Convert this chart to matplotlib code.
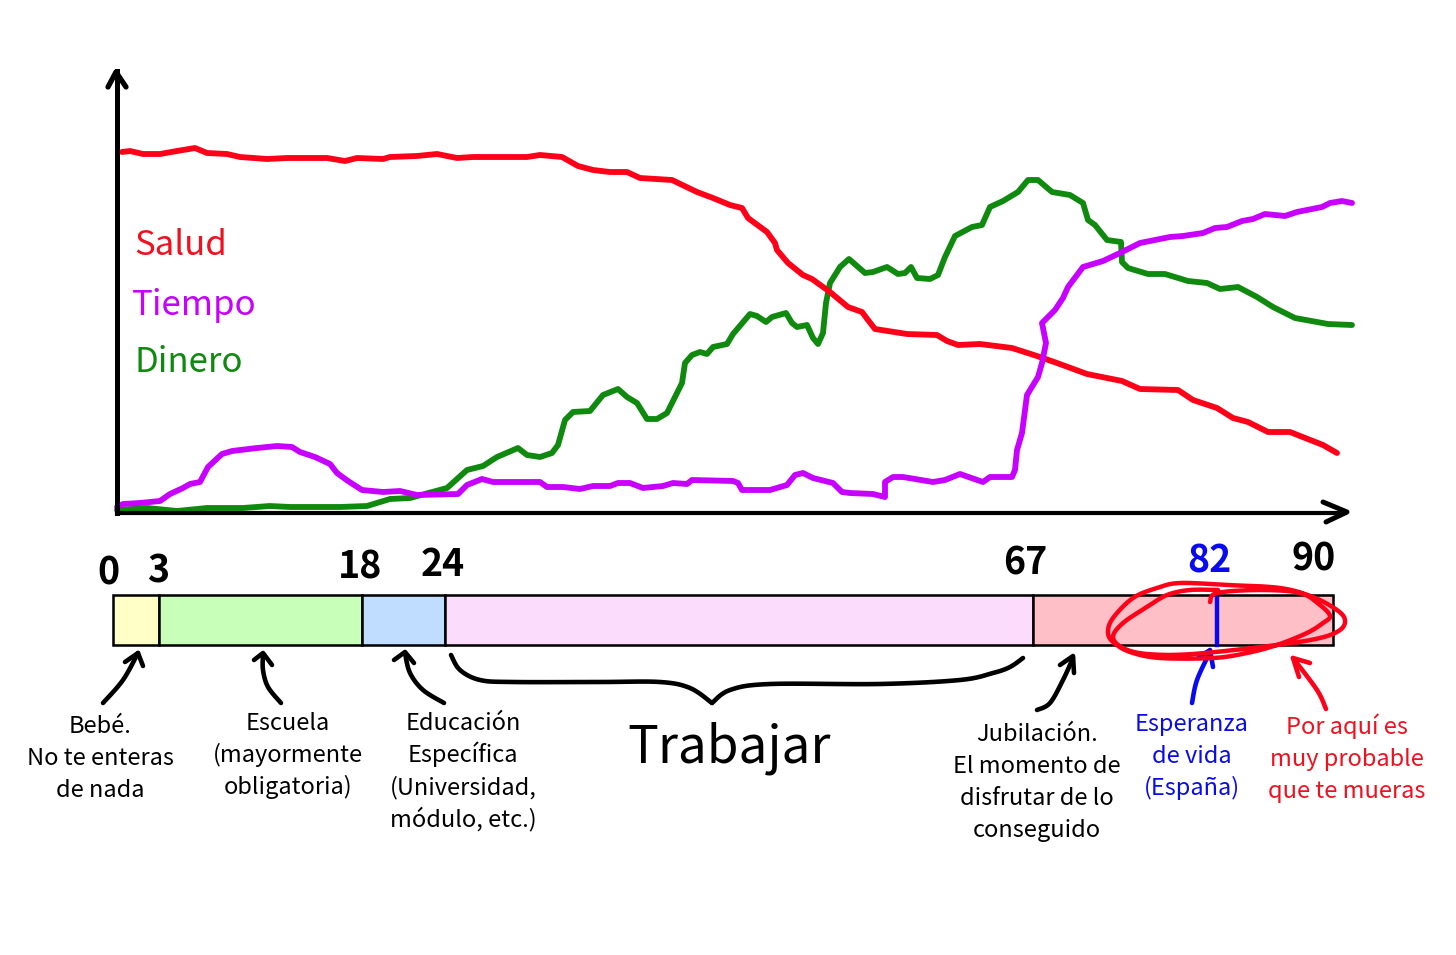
import matplotlib

matplotlib.use("Agg")
import matplotlib.pyplot as plt
import numpy as np

plt.rcParams["font.family"] = ["Noto Sans CJK JP", "DejaVu Sans"]

WIDTH, HEIGHT = 1456, 955

# The sketch has no scale on its axes, so values are in sketch units:
# x along the horizontal axis, y height above it.
salud_x = [5, 13, 26, 43, 60, 78, 90, 110, 123, 150, 170, 210, 228, 240, 266, 273, 300, 320, 340, 356,
           410, 423, 445, 461, 476, 493, 510, 523, 555, 580, 596, 613, 625, 631, 650, 658, 660, 671, 686, 695,
           713, 731, 745, 751, 758, 790, 820, 830, 841, 863, 895, 920, 940, 970, 1005, 1023, 1061, 1076, 1100,
           1116, 1131, 1151, 1173, 1206, 1220]
salud_y = [361, 362, 359, 359, 362, 365, 360, 359, 356, 354, 355, 355, 352, 355, 354, 356, 357, 359, 355, 356,
           356, 358, 356, 347, 343, 341, 341, 335, 333, 321, 315, 308, 305, 295, 281, 270, 263, 250, 238, 234,
           221, 206, 201, 193, 184, 179, 178, 172, 168, 169, 165, 157, 150, 139, 132, 124, 123, 113, 105,
           95, 91, 81, 81, 68, 60]

tiempo_x = [0, 6, 23, 43, 53, 66, 73, 83, 91, 105, 115, 140, 160, 175, 183, 198, 213, 220, 231, 245,
            266, 283, 300, 341, 350, 365, 376, 423, 430, 446, 463, 476, 493, 501, 513, 526, 546, 556, 570, 575,
            616, 621, 625, 653, 670, 678, 686, 696, 716, 725, 733, 756, 768, 768, 776, 786, 816, 828, 843, 866,
            873, 895, 898, 900, 905, 910, 921, 925, 929, 925, 938, 946, 951, 966, 986, 1003, 1023, 1053, 1066,
            1086, 1098, 1110, 1125, 1136, 1148, 1168, 1180, 1205, 1213, 1225, 1235]
tiempo_y = [6, 9, 10, 12, 19, 25, 29, 31, 46, 59, 62, 65, 67, 66, 61, 56, 49, 40, 32, 23,
            21, 22, 18, 19, 28, 34, 31, 31, 26, 26, 24, 27, 27, 30, 30, 25, 27, 30, 29, 33,
            32, 30, 23, 23, 28, 38, 40, 35, 30, 21, 20, 19, 16, 31, 36, 36, 31, 33, 39, 31,
            36, 36, 43, 63, 80, 118, 136, 150, 170, 190, 203, 215, 226, 246, 252, 260, 270, 276, 277,
            280, 285, 286, 292, 294, 299, 297, 301, 306, 310, 312, 310]

dinero_x = [0, 30, 60, 90, 126, 153, 173, 223, 250, 273, 293, 330, 350, 366, 380, 401, 410, 423, 435, 441,
            448, 456, 473, 486, 501, 510, 520, 530, 540, 550, 565, 568, 575, 583, 590, 596, 610, 616, 633, 640,
            649, 655, 669, 675, 680, 690, 696, 701, 706, 709, 713, 723, 732, 740, 748, 756, 770, 781, 788, 794,
            800, 813, 821, 828, 838, 855, 865, 873, 886, 901, 911, 921, 935, 953, 966, 971, 978, 990, 1004,
            1005, 1011, 1031, 1048, 1071, 1090, 1103, 1121, 1140, 1156, 1178, 1211, 1235]
dinero_y = [3, 5, 2, 5, 5, 7, 6, 6, 7, 14, 15, 25, 43, 47, 56, 65, 58, 56, 60, 68,
            93, 101, 102, 118, 124, 116, 110, 94, 94, 100, 130, 150, 158, 161, 159, 166, 169, 179, 199, 197,
            191, 196, 200, 190, 186, 188, 175, 169, 180, 210, 230, 246, 254, 247, 240, 241, 246, 239, 240, 246,
            235, 234, 238, 256, 277, 286, 288, 306, 312, 321, 333, 333, 321, 318, 310, 293, 288, 273, 271,
            251, 245, 239, 239, 232, 230, 224, 226, 216, 206, 195, 189, 188]

stage_ages = [0, 3, 18, 24, 67, 90]
stage_colors = ["#ffffc8", "#c8ffb9", "#c0dcff", "#fcdcfc", "#ffbfc6"]
life_expectancy = 82

# where the hand-drawn timeline puts each age, it is not quite linear
scale_ages = [0, 3, 18, 24, 67, 82, 90]
scale_px = [113, 159, 362, 445, 1033, 1217, 1333]

RED = "#ff0019"
PURPLE = "#c800ff"
GREEN = "#0f8a0f"
BLUE = "#0a0af0"
TEXT_RED = "#f0101e"


def px_box(left, top, right, bottom):
    """Axes rectangle from picture pixels (y counted from the top)."""
    return [left / WIDTH, 1 - bottom / HEIGHT, (right - left) / WIDTH, (bottom - top) / HEIGHT]


fig = plt.figure(figsize=(WIDTH / 100, HEIGHT / 100), dpi=100)

# Main chart
ax = fig.add_axes(px_box(117, 71, 1345, 513))
ax.set_xlim(0, 1228)
ax.set_ylim(0, 442)
line_style = dict(lw=4.2, solid_capstyle="round", solid_joinstyle="round", clip_on=False)
ax.plot(dinero_x, dinero_y, color=GREEN, **line_style)
ax.plot(salud_x, salud_y, color=RED, **line_style)
ax.plot(tiempo_x, tiempo_y, color=PURPLE, **line_style)
ax.set_xticks([])
ax.set_yticks([])
ax.spines["top"].set_visible(False)
ax.spines["right"].set_visible(False)
ax.spines["left"].set_linewidth(3.6)
ax.spines["bottom"].set_linewidth(3.0)

# Life stages bar
ax_bar = fig.add_axes(px_box(113, 595, 1333, 645))
ax_bar.set_xscale(
    "function",
    functions=(lambda a: np.interp(a, scale_ages, scale_px), lambda p: np.interp(p, scale_px, scale_ages)),
)
ax_bar.barh(
    0,
    np.diff(stage_ages),
    left=stage_ages[:-1],
    height=1,
    align="edge",
    color=stage_colors,
    edgecolor="black",
    linewidth=1.8,
    clip_on=False,
)
ax_bar.plot([life_expectancy, life_expectancy], [0, 1], color=BLUE, lw=3.2, clip_on=False)
ax_bar.set_xlim(0, 90)
ax_bar.set_ylim(0, 1)
ax_bar.set_xticks([])
ax_bar.set_xticks([], minor=True)
ax_bar.set_yticks([])

# Everything hand-written on top of the picture goes on a pixel overlay
ov = fig.add_axes([0, 0, 1, 1])
ov.set_xlim(0, WIDTH)
ov.set_ylim(HEIGHT, 0)
ov.axis("off")


def smooth(points, steps=8):
    """Catmull-Rom through the pen points, only for the hand-drawn strokes."""
    p = np.array(points, dtype=float)
    if len(p) < 3:
        return p
    p = np.vstack([p[0], p, p[-1]])
    t = np.linspace(0, 1, steps, endpoint=False)[:, None]
    out = []
    for i in range(1, len(p) - 2):
        a, b, c, d = p[i - 1], p[i], p[i + 1], p[i + 2]
        out.append(0.5 * (2 * b + (c - a) * t + (2 * a - 5 * b + 4 * c - d) * t**2 + (3 * b - a - 3 * c + d) * t**3))
    out.append(p[-2:-1])
    return np.vstack(out)


def stroke(points, color="black", lw=3.3):
    xy = smooth(points)
    ov.plot(xy[:, 0], xy[:, 1], color=color, lw=lw, solid_capstyle="round", solid_joinstyle="round")


def hand_arrow(shaft, head, color="black"):
    stroke(shaft, color)
    ov.plot(*zip(*head), color=color, lw=3.3, solid_capstyle="round", solid_joinstyle="round")


# axis arrow heads
ov.plot([108, 116, 126], [87, 72, 87], color="black", lw=3.8, solid_capstyle="round", solid_joinstyle="round")
ov.plot([1323, 1347, 1326], [502, 512, 522], color="black", lw=3.6, solid_capstyle="round", solid_joinstyle="round")

for label, color, x, y in [("Salud", "#f0101e", 135, 255), ("Tiempo", PURPLE, 133, 315), ("Dinero", GREEN, 135, 372)]:
    ov.text(x - 1, y, label, color=color, fontsize=25, va="baseline", ha="left")

for label, x, y, color in [
    ("0", 108, 584, "black"),
    ("3", 158, 582, "black"),
    ("18", 360, 578, "black"),
    ("24", 443, 576, "black"),
    ("67", 1025, 574, "black"),
    ("82", 1209, 572, BLUE),
    ("90", 1314, 570, "black"),
]:
    ov.text(x, y, label, color=color, fontsize=27, fontweight="bold", ha="center", va="baseline")

hand_arrow([(103, 703), (123, 680), (138, 653)], [(125, 662), (138, 653), (143, 666)])
hand_arrow([(281, 703), (268, 687), (263, 670), (263, 654)], [(254, 660), (263, 653), (272, 665)])
hand_arrow([(444, 703), (423, 690), (410, 673), (405, 653)], [(394, 660), (405, 652), (414, 663)])
hand_arrow([(1037, 710), (1050, 703), (1063, 680), (1073, 658)], [(1060, 665), (1073, 656), (1074, 673)])
hand_arrow([(1192, 703), (1197, 680), (1210, 652)], [(1198, 658), (1210, 650), (1213, 667)], BLUE)
hand_arrow([(1326, 709), (1317, 690), (1293, 658)], [(1310, 663), (1293, 658), (1299, 677)], RED)

# brace under the working years
stroke([(451, 655), (460, 670), (480, 680), (513, 682), (600, 682), (660, 682), (690, 688), (712, 703)])
stroke([(712, 703), (730, 690), (770, 684), (880, 684), (960, 680), (993, 673), (1010, 667), (1023, 658)])

# red scribble around the end of the bar
stroke([(1210, 602), (1217, 593), (1260, 590), (1300, 593), (1320, 605), (1330, 616), (1323, 623), (1307, 633),
        (1277, 645), (1247, 653), (1213, 658), (1160, 658), (1130, 652), (1113, 642), (1108, 632), (1113, 618),
        (1133, 598), (1157, 588), (1180, 583), (1227, 585), (1280, 588), (1313, 597), (1337, 610), (1345, 620),
        (1340, 630), (1320, 638), (1277, 645), (1193, 654), (1147, 654), (1123, 648), (1113, 637), (1123, 623),
        (1147, 607), (1167, 595), (1190, 590), (1218, 590)], RED, 3.2)

notes = [
    (["Bebé.", "No te enteras", "de nada"], 100, 733, "black"),
    (["Escuela", "(mayormente", "obligatoria)"], 288, 730, "black"),
    (["Educación", "Específica", "(Universidad,", "módulo, etc.)"], 463, 730, "black"),
    (["Jubilación.", "El momento de", "disfrutar de lo", "conseguido"], 1037, 741, "black"),
    (["Esperanza", "de vida", "(España)"], 1192, 731, BLUE),
    (["Por aquí es", "muy probable", "que te mueras"], 1347, 734, TEXT_RED),
]
for lines, x, y, color in notes:
    for i, line in enumerate(lines):
        ov.text(x, y + 32 * i, line, color=color, fontsize=17, ha="center", va="baseline")

ov.text(729, 762, "Trabajar", color="black", fontsize=37, ha="center", va="baseline")

fig.savefig("out.png", dpi=100)
plt.close(fig)
